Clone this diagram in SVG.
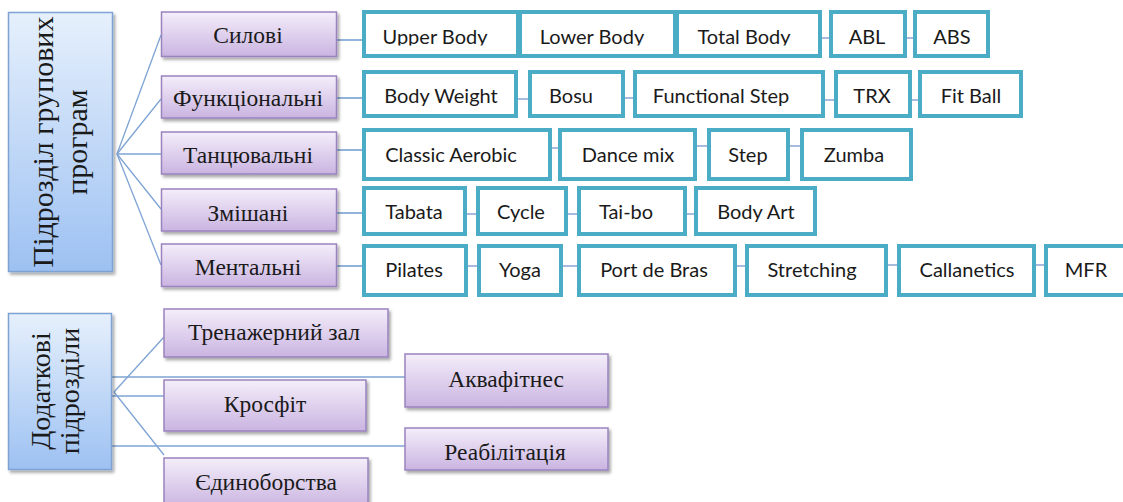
<svg xmlns="http://www.w3.org/2000/svg" width="1123" height="502" viewBox="0 0 1123 502">
<defs>
<linearGradient id="gPurple" x1="0" y1="0" x2="0" y2="1"><stop offset="0" stop-color="#F4EEFA"/><stop offset="1" stop-color="#CAB4E1"/></linearGradient>
<linearGradient id="gBlue" x1="0" y1="0" x2="0" y2="1"><stop offset="0" stop-color="#E6F0FC"/><stop offset="1" stop-color="#9DC1F2"/></linearGradient>
<filter id="sh" x="-10%" y="-10%" width="130%" height="150%"><feDropShadow dx="2" dy="2.5" stdDeviation="1.5" flood-color="#000" flood-opacity="0.35"/></filter>
<clipPath id="row1clip"><rect x="0" y="0" width="1123" height="45.5"/></clipPath>
</defs>
<style>
.root rect{fill:url(#gBlue);stroke:#7EA3D3;stroke-width:1.5;filter:url(#sh)}
.root text{font-family:"Liberation Serif",serif;fill:#1a1a1a;text-anchor:middle}
.cat rect{fill:url(#gPurple);stroke:#9A82BE;stroke-width:1.5;filter:url(#sh)}
.cat text{font-family:"Liberation Serif",serif;font-size:23.5px;fill:#1a1a1a;text-anchor:middle}
.item rect{fill:#fff;stroke:#4BACC6;stroke-width:4}
.item text{font-family:Lato,"Liberation Sans",sans-serif;font-size:20px;fill:#1a1a1a;text-anchor:middle}
.r1 text{clip-path:url(#row1clip)}
.hub{stroke:#7EA4D4;stroke-width:1.3;fill:none}
.c2i{stroke:#6E9BD0;stroke-width:1.5}
.lnk{stroke:#A7BCDD;stroke-width:2}
</style>

<g id="connectors">
<line class="hub" x1="117" y1="154" x2="161" y2="35"/>
<line class="hub" x1="117" y1="154" x2="161" y2="99"/>
<line class="hub" x1="117" y1="154" x2="161" y2="154"/>
<line class="hub" x1="117" y1="154" x2="161" y2="209"/>
<line class="hub" x1="117" y1="154" x2="161" y2="265"/>
<line class="hub" x1="114" y1="392" x2="164" y2="337"/>
<line class="hub" x1="114" y1="392" x2="164" y2="455"/>
<line class="hub" x1="112" y1="377" x2="405" y2="377"/>
<line class="hub" x1="112" y1="396" x2="164" y2="396"/>
<line class="hub" x1="112" y1="446" x2="405" y2="446"/>
<line class="c2i" x1="337" y1="40" x2="362" y2="40"/>
<line class="c2i" x1="337" y1="98" x2="362" y2="98"/>
<line class="c2i" x1="337" y1="150" x2="362" y2="150"/>
<line class="c2i" x1="337" y1="213" x2="362" y2="213"/>
<line class="c2i" x1="337" y1="266" x2="362" y2="266"/>
<line class="lnk" x1="820" y1="38" x2="832" y2="38"/>
<line class="lnk" x1="905" y1="38" x2="915" y2="38"/>
<line class="lnk" x1="516" y1="99" x2="530" y2="99"/>
<line class="lnk" x1="623" y1="98" x2="635" y2="98"/>
<line class="lnk" x1="823" y1="100" x2="836" y2="100"/>
<line class="lnk" x1="910" y1="100" x2="920" y2="100"/>
<line class="lnk" x1="550" y1="148" x2="560" y2="148"/>
<line class="lnk" x1="695" y1="146" x2="709" y2="146"/>
<line class="lnk" x1="788" y1="146" x2="802" y2="146"/>
<line class="lnk" x1="465" y1="214" x2="478" y2="214"/>
<line class="lnk" x1="566" y1="214" x2="579" y2="214"/>
<line class="lnk" x1="685" y1="214" x2="696" y2="214"/>
<line class="lnk" x1="466" y1="266" x2="479" y2="266"/>
<line class="lnk" x1="561" y1="266" x2="579" y2="266"/>
<line class="lnk" x1="735" y1="266" x2="747" y2="266"/>
<line class="lnk" x1="886" y1="265" x2="899" y2="265"/>
<line class="lnk" x1="1034" y1="265" x2="1046" y2="265"/>
</g>

<g id="root-group" class="root">
<rect x="8.5" y="12.5" width="104" height="259"/>
<text font-size="30" x="53" y="142" transform="rotate(-90 53 142)">Підрозділ групових</text>
<text font-size="30" x="87" y="142" transform="rotate(-90 87 142)">програм</text>
</g>
<g id="root-extra" class="root">
<rect x="8.5" y="313.5" width="103" height="156"/>
<text font-size="28" x="50" y="391" transform="rotate(-90 50 391)">Додаткові</text>
<text font-size="28" x="79" y="391" transform="rotate(-90 79 391)">підрозділи</text>
</g>

<g id="cat-sylovi" class="cat"><rect x="161.5" y="12" width="175" height="44.5"/><text x="248" y="43">Силові</text></g>
<g id="cat-funk" class="cat"><rect x="161.5" y="76" width="175" height="42"/><text x="248" y="105.5" font-size="21.5">Функціональні</text></g>
<g id="cat-tants" class="cat"><rect x="161.5" y="132" width="175" height="42"/><text x="248" y="163">Танцювальні</text></g>
<g id="cat-zmish" class="cat"><rect x="161.5" y="189" width="175" height="42"/><text x="248" y="220.5">Змішані</text></g>
<g id="cat-ment" class="cat"><rect x="161.5" y="244" width="175" height="42.5"/><text x="248" y="275">Ментальні</text></g>

<g id="extra-trenazher" class="cat"><rect x="164" y="309" width="224" height="48"/><text x="274" y="340">Тренажерний зал</text></g>
<g id="extra-akva" class="cat"><rect x="405" y="354" width="203" height="53"/><text x="506" y="387">Аквафітнес</text></g>
<g id="extra-krosfit" class="cat"><rect x="164" y="380" width="202" height="51"/><text x="265" y="412">Кросфіт</text></g>
<g id="extra-reab" class="cat"><rect x="405" y="428" width="203" height="42"/><text x="505" y="460">Реабілітація</text></g>
<g id="extra-yedyno" class="cat"><rect x="164" y="458" width="204" height="50"/><text x="266" y="490">Єдиноборства</text></g>

<g id="upper-body" class="item r1"><rect x="364" y="12" width="154" height="44"/><text x="435" y="44">Upper Body</text></g>
<g id="lower-body" class="item r1"><rect x="520" y="12" width="155" height="44"/><text x="592" y="44">Lower Body</text></g>
<g id="total-body" class="item r1"><rect x="677" y="12" width="143" height="44"/><text x="744" y="44">Total Body</text></g>
<g id="abl" class="item r1"><rect x="831" y="12" width="74" height="44"/><text x="867" y="44">ABL</text></g>
<g id="abs" class="item r1"><rect x="915" y="12" width="73" height="44"/><text x="952" y="44">ABS</text></g>

<g id="body-weight" class="item"><rect x="364" y="72" width="152" height="44"/><text x="441" y="102.5">Body Weight</text></g>
<g id="bosu" class="item"><rect x="530" y="72" width="93" height="44"/><text x="571" y="102.5">Bosu</text></g>
<g id="functional-step" class="item"><rect x="635" y="72" width="188" height="44"/><text x="721" y="102.5">Functional Step</text></g>
<g id="trx" class="item"><rect x="836" y="72" width="74" height="44"/><text x="872" y="102.5">TRX</text></g>
<g id="fit-ball" class="item"><rect x="920" y="72" width="101" height="44"/><text x="971" y="102.5">Fit Ball</text></g>

<g id="classic-aerobic" class="item"><rect x="364" y="130" width="186" height="49"/><text x="451" y="162">Classic Aerobic</text></g>
<g id="dance-mix" class="item"><rect x="560" y="130" width="135" height="49"/><text x="628" y="162">Dance mix</text></g>
<g id="step" class="item"><rect x="709" y="130" width="79" height="49"/><text x="748" y="162">Step</text></g>
<g id="zumba" class="item"><rect x="802" y="130" width="109" height="49"/><text x="854" y="162">Zumba</text></g>

<g id="tabata" class="item"><rect x="364" y="188" width="101" height="46"/><text x="414" y="219">Tabata</text></g>
<g id="cycle" class="item"><rect x="478" y="188" width="88" height="46"/><text x="521" y="219">Cycle</text></g>
<g id="tai-bo" class="item"><rect x="579" y="188" width="106" height="46"/><text x="626" y="219">Tai-bo</text></g>
<g id="body-art" class="item"><rect x="696" y="188" width="119" height="46"/><text x="756" y="219">Body Art</text></g>

<g id="pilates" class="item"><rect x="364" y="246" width="102" height="49"/><text x="414" y="277">Pilates</text></g>
<g id="yoga" class="item"><rect x="479" y="246" width="82" height="49"/><text x="520" y="277">Yoga</text></g>
<g id="port-de-bras" class="item"><rect x="579" y="246" width="156" height="49"/><text x="654" y="277">Port de Bras</text></g>
<g id="stretching" class="item"><rect x="747" y="246" width="139" height="49"/><text x="812" y="277">Stretching</text></g>
<g id="callanetics" class="item"><rect x="899" y="246" width="135" height="49"/><text x="967" y="277">Callanetics</text></g>
<g id="mfr" class="item"><rect x="1046" y="246" width="82" height="49"/><text x="1086" y="277">MFR</text></g>
</svg>
